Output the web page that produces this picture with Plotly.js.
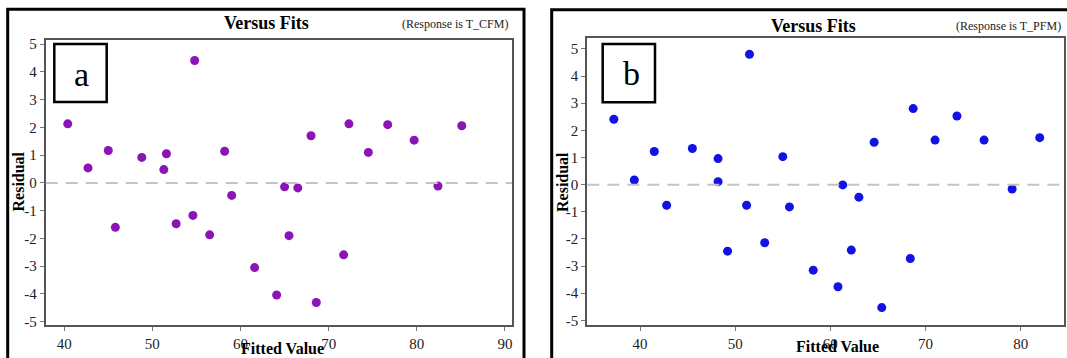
<!DOCTYPE html>
<html>
<head>
<meta charset="utf-8">
<script src="https://cdn.plot.ly/plotly-3.0.1.min.js"></script>
<style>
html,body{margin:0;padding:0;background:#fff;}
#chart{width:1067px;height:358px;}
</style>
</head>
<body>
<div id="chart"></div>
<script>
// ---- data ----
const fitsA = [40.4, 42.7, 45.0, 45.8, 48.8, 51.3, 51.6, 52.7, 54.6, 54.8, 56.5, 58.2, 59.0, 61.6, 64.1, 65.0, 65.5, 66.5, 68.0, 68.6, 71.7, 72.3, 74.5, 76.7, 79.7, 82.4, 85.1];
const residA = [2.13, 0.54, 1.17, -1.60, 0.92, 0.48, 1.05, -1.47, -1.17, 4.41, -1.87, 1.14, -0.45, -3.05, -4.04, -0.14, -1.90, -0.18, 1.70, -4.31, -2.59, 2.13, 1.10, 2.10, 1.54, -0.11, 2.06];

const fitsB = [37.25, 39.4, 41.5, 42.8, 45.5, 48.2, 48.2, 49.2, 51.2, 51.5, 53.1, 55.0, 55.7, 58.2, 60.8, 61.3, 62.2, 63.0, 64.6, 65.4, 68.4, 68.7, 71.0, 73.3, 76.15, 79.1, 82.0];
const residB = [2.41, 0.17, 1.22, -0.76, 1.33, 0.96, 0.11, -2.45, -0.76, 4.80, -2.14, 1.03, -0.82, -3.15, -3.76, -0.01, -2.41, -0.46, 1.56, -4.53, -2.72, 2.80, 1.64, 2.53, 1.64, -0.16, 1.73];

const yTickVals = [-5, -4, -3, -2, -1, 0, 1, 2, 3, 4, 5];
const yTickText = ["-5", "-4", "-3", "-2", "-1", "0", "1", "2", "3", "4", "5"];
const xTickValsA = [40, 50, 60, 70, 80, 90];
const xTickValsB = [40, 50, 60, 70, 80];

const titleText = "Versus Fits";
const responseA = "(Response is T_CFM)";
const responseB = "(Response is T_PFM)";
const xTitle = "Fitted Value";
const yTitle = "Residual";
const panelLabels = ["a", "b"];

// ---- layout helpers ----
const W = 1067, H = 358;
const px = v => v / W;
const py = v => 1 - v / H;
const serif = "Liberation Serif, Times New Roman, serif";

const traces = [
  {x: fitsA, y: residA, type: "scatter", mode: "markers", xaxis: "x", yaxis: "y",
   marker: {color: "#8a14b6", size: 9}, hoverinfo: "skip"},
  {x: fitsB, y: residB, type: "scatter", mode: "markers", xaxis: "x2", yaxis: "y2",
   marker: {color: "#1212e6", size: 9}, hoverinfo: "skip"}
];

function xAxis(domain, range, vals) {
  return {domain: domain, range: range, tickvals: vals, ticks: "outside", ticklen: 4,
    tickcolor: "#777", tickwidth: 1, showgrid: false, zeroline: false,
    showline: true, mirror: true, linecolor: "#555", linewidth: 2,
    tickfont: {family: serif, size: 15, color: "#222"}, fixedrange: true};
}
function yAxis(domain, range) {
  return {domain: domain, range: range, tickvals: yTickVals, ticktext: yTickText,
    ticks: "outside", ticklen: 4, tickcolor: "#777", tickwidth: 1,
    showgrid: false, zeroline: false, showline: true, mirror: true,
    linecolor: "#555", linewidth: 2,
    tickfont: {family: serif, size: 15, color: "#222"}, fixedrange: true};
}

const layout = {
  width: W, height: H, margin: {l: 0, r: 0, t: 0, b: 0},
  paper_bgcolor: "#fff", plot_bgcolor: "#fff", showlegend: false,
  xaxis: xAxis([px(45.7), px(512)], [37.9, 90.8], xTickValsA),
  yaxis: Object.assign(yAxis([py(325.3), py(40)], [-5.13, 5.15]), {anchor: "x"}),
  xaxis2: Object.assign(xAxis([px(587.3), px(1064)], [34.46, 84.55], xTickValsB), {anchor: "y2"}),
  yaxis2: Object.assign(yAxis([py(325), py(38.3)], [-5.17, 5.39]), {anchor: "x2"}),
  shapes: [
    // outer frames
    {type: "rect", xref: "paper", yref: "paper", x0: px(7.7), x1: px(524), y0: py(380), y1: py(9.3),
     line: {color: "#000", width: 3}},
    {type: "rect", xref: "paper", yref: "paper", x0: px(551.7), x1: px(1090), y0: py(380), y1: py(9.7),
     line: {color: "#000", width: 3}},
    // zero reference lines
    {type: "line", xref: "x domain", yref: "y", x0: 0, x1: 1, y0: 0, y1: 0,
     line: {color: "#c4c4c4", width: 2, dash: "12px,8px"}},
    {type: "line", xref: "x2 domain", yref: "y2", x0: 0, x1: 1, y0: 0, y1: 0,
     line: {color: "#c4c4c4", width: 2, dash: "12px,8px"}},
    // panel label boxes
    {type: "rect", xref: "paper", yref: "paper", x0: px(54.3), x1: px(106.7), y0: py(102), y1: py(44),
     line: {color: "#000", width: 2.5}, fillcolor: "#fff"},
    {type: "rect", xref: "paper", yref: "paper", x0: px(602.7), x1: px(655), y0: py(102.3), y1: py(44),
     line: {color: "#000", width: 2.5}, fillcolor: "#fff"}
  ],
  annotations: [
    {text: "<b>" + titleText + "</b>", xref: "paper", yref: "paper", x: px(266.5), y: py(23),
     xanchor: "center", yanchor: "middle", showarrow: false, font: {family: serif, size: 18, color: "#000"}},
    {text: "<b>" + titleText + "</b>", xref: "paper", yref: "paper", x: px(813), y: py(26),
     xanchor: "center", yanchor: "middle", showarrow: false, font: {family: serif, size: 18, color: "#000"}},
    {text: responseA, xref: "paper", yref: "paper", x: px(510), y: py(24),
     xanchor: "right", yanchor: "middle", showarrow: false, font: {family: serif, size: 12, color: "#222"}},
    {text: responseB, xref: "paper", yref: "paper", x: px(1063), y: py(26.5),
     xanchor: "right", yanchor: "middle", showarrow: false, font: {family: serif, size: 12, color: "#222"}},
    {text: "<b>" + yTitle + "</b>", xref: "paper", yref: "paper", x: px(17.5), y: py(182), textangle: -90,
     xanchor: "center", yanchor: "middle", showarrow: false, font: {family: serif, size: 16, color: "#000"}},
    {text: "<b>" + yTitle + "</b>", xref: "paper", yref: "paper", x: px(562), y: py(182), textangle: -90,
     xanchor: "center", yanchor: "middle", showarrow: false, font: {family: serif, size: 16, color: "#000"}},
    {text: "<b>" + xTitle + "</b>", xref: "paper", yref: "paper", x: px(282), y: py(348),
     xanchor: "center", yanchor: "middle", showarrow: false, font: {family: serif, size: 16, color: "#000"}},
    {text: "<b>" + xTitle + "</b>", xref: "paper", yref: "paper", x: px(837), y: py(346),
     xanchor: "center", yanchor: "middle", showarrow: false, font: {family: serif, size: 16, color: "#000"}},
    {text: panelLabels[0], xref: "paper", yref: "paper", x: px(81.7), y: py(74),
     xanchor: "center", yanchor: "middle", showarrow: false, font: {family: serif, size: 34, color: "#000"}},
    {text: panelLabels[1], xref: "paper", yref: "paper", x: px(631.7), y: py(73),
     xanchor: "center", yanchor: "middle", showarrow: false, font: {family: serif, size: 34, color: "#000"}}
  ]
};

Plotly.newPlot("chart", traces, layout, {staticPlot: true, displayModeBar: false});
</script>
</body>
</html>
